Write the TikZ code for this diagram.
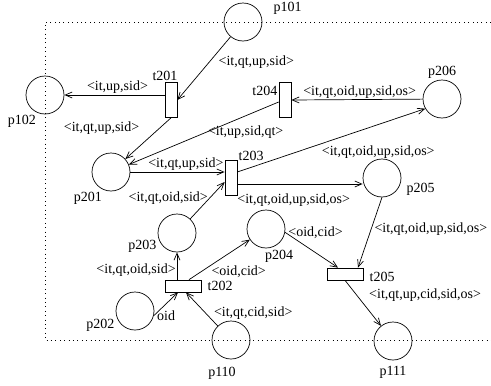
\documentclass[tikz,border=0pt]{standalone}
\usepackage{fontspec}
\setmainfont{Liberation Serif}
\usetikzlibrary{arrows.meta, positioning}
\tikzstyle{place} = [circle, draw, minimum size=38pt, inner sep=0pt]
\tikzstyle{vtrans} = [rectangle, draw, minimum width=12pt, minimum height=35pt, inner sep=0pt]
\tikzstyle{htrans} = [rectangle, draw, minimum width=36pt, minimum height=12pt, inner sep=0pt]
\tikzstyle{lbl} = [inner sep=1pt]
\tikzstyle{frame} = [dash pattern=on 0.8pt off 3.6pt]

\begin{document}
\begin{tikzpicture}[x=1pt, y=-1pt, line width=0.7pt, >={Straight Barb[length=7pt,width=6pt]}, font=\fontsize{14}{16}\selectfont, every label/.style={lbl}]
		\useasboundingbox (0,0) rectangle (491,386);
		\draw[frame] (491,22) -| (45,340) -- (491,340);
		
		\node[place, label={[xshift=10pt,yshift=14pt]right:p101}] (p101) at (243,22) {};
		\node[place, label={[xshift=6pt,yshift=-5pt]below left:p102}] (p102) at (45,95) {};
		\node[place, label={[xshift=6pt,yshift=-5pt]below left:p201}] (p201) at (111,172) {};
		\node[place, label={[yshift=-13pt]left:p203}] (p203) at (177,233) {};
		\node[place, label={[xshift=13pt]below:p204}] (p204) at (266,229) {};
		\node[place, label={[xshift=4pt,yshift=-11pt]right:p205}] (p205) at (382,178) {};
		\node[place, label=above:p206] (p206) at (442,99) {};
		\node[place, label={[yshift=-14pt]left:p202}] (p202) at (135,311) {};
		\node[place, label={[xshift=-9pt,yshift=-6pt]below:p110}] (p110) at (231,340) {};
		\node[place, label={[yshift=-5pt]below:p111}] (p111) at (393,341) {};
		
		\node[vtrans, label={[xshift=-6pt]above:t201}] (t201) at (171,100) {};
		\node[vtrans, label={[yshift=9pt]left:t204}] (t204) at (285,100) {};
		\node[vtrans, label={[yshift=10pt]above right:t203}] (t203) at (231,178) {};
		\node[htrans, label={[xshift=5pt]right:t202}] (t202) at (183,286) {};
		\node[htrans, label={[xshift=5pt,yshift=-3pt]right:t205}] (t205) at (345,274) {};
		
		\draw[->] (p101) -- node[lbl, pos=.4, right=8pt] (a1) {<it,qt,up,sid>} (t201.east);
		\draw[->] (t201.west |- p102) -- node[lbl, pos=.47, above] (a2) {<it,up,sid>} (p102);
		\draw[->] (t201.south) -- node[lbl, pos=.25, left=19pt] (a3) {<it,qt,up,sid>} (p201);
		\draw[->] ([yshift=-2pt]t204.west) -- node[lbl, pos=.22, below=9pt] (a4) {<it,up,sid,qt>} (p201);
		\draw[->] (p206) -- node[lbl, pos=.48, above] (a5) {<it,qt,oid,up,sid,os>} (t204.east);
		\draw[->] (p201) -- node[lbl, pos=.59, above] (a6) {<it,qt,up,sid>} (t203.west |- p201);
		\draw[->] (t203.east |- p201) -- node[lbl, pos=.75, below=20pt] (a7) {<it,qt,oid,up,sid,os>} (p206.210);
		\draw[->] ([yshift=-6pt]t203.east) -- node[lbl, pos=.45, below=8pt] (a8) {<it,qt,oid,up,sid,os>} ([yshift=-6pt]t203.east -| p205.west);
		\draw[->] (p203) -- node[lbl, pos=.55, left] (a9) {<it,qt,oid,sid>} ([yshift=-4pt]t203.west);
		\draw[->] (t202.north -| p203) -- node[lbl, pos=.35, left] (a10) {<it,qt,oid,sid>} (p203);
		\draw[->] ([xshift=6pt]t202.north) -- node[lbl, pos=.2, right=9pt] (a11) {<oid,cid>} (p204);
		\draw[->] (p202.-14) -- node[lbl, pos=0, right=2pt] (a12) {oid} ([xshift=-5pt]t202.south);
		\draw[->] (p110) -- node[lbl, pos=.38, right=7pt] (a13) {<it,qt,cid,sid>} ([xshift=3pt]t202.south);
		\draw[->] (p204.-10) -- node[lbl, pos=0, right=2pt] (a14) {<oid,cid>} ([xshift=-7pt]t205.north);
		\draw[->] (p205.south) -- node[lbl, pos=.45, right=2pt] (a15) {<it,qt,oid,up,sid,os>} ([xshift=13pt]t205.north);
		\draw[->] (t205.south) -- node[lbl, pos=.33, right=11pt] (a16) {<it,qt,up,cid,sid,os>} (p111);
		
	\end{tikzpicture}
\end{document}
